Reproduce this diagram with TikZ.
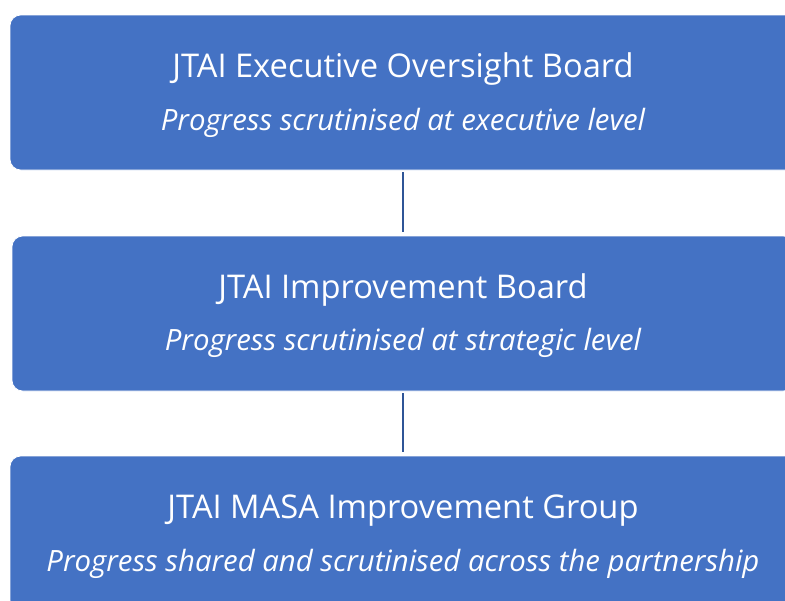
\documentclass[tikz,border=0pt]{standalone}
\usepackage{fontspec}
\setmainfont{Open Sans}
\definecolor{boardblue}{RGB}{68,114,196}
\definecolor{linkblue}{RGB}{47,85,151}
\tikzstyle{board} = [draw=white, line width=0.6pt, fill=boardblue, rounded corners=8,
                     minimum width=786*0.75pt, minimum height=155*0.75pt, inner sep=0pt]
\tikzstyle{title} = [text=white, font=\fontsize{24.5}{29}\selectfont]
\tikzstyle{note}  = [text=white, font=\fontsize{22}{26}\selectfont\itshape]
\tikzstyle{link}  = [draw=linkblue, line width=1.8pt]

\begin{document}
\begin{tikzpicture}[x=0.75pt, y=-0.75pt]
            \useasboundingbox (0, 0) rectangle (785, 600);
            \clip (0, 0) rectangle (785, 600);

            % executive level
            \node[board] (exec) at (403, 92.5) {};
            \node[title] (execT) at (403, 70) {\strut JTAI Executive Oversight Board};
            \node[note] (execN) at (403, 124) {\strut Progress scrutinised at executive level};

            % strategic level
            \node[board, minimum width=782*0.75pt] (improve) at (403, 313.5) {};
            \node[title] (improveT) at (403, 291) {\strut JTAI Improvement Board};
            \node[note] (improveN) at (403, 344) {\strut Progress scrutinised at strategic level};

            % partnership level
            \node[board] (masa) at (403, 533.5) {};
            \node[title] (masaT) at (403, 511) {\strut JTAI MASA Improvement Group};
            \node[note] (masaN) at (403, 565) {\strut Progress shared and scrutinised across the partnership};

            \draw[link, shorten <=1.5, shorten >=2.5] (exec) -- (improve);
            \draw[link, shorten <=1.5, shorten >=2.5] (improve) -- (masa);
        \end{tikzpicture}
\end{document}
